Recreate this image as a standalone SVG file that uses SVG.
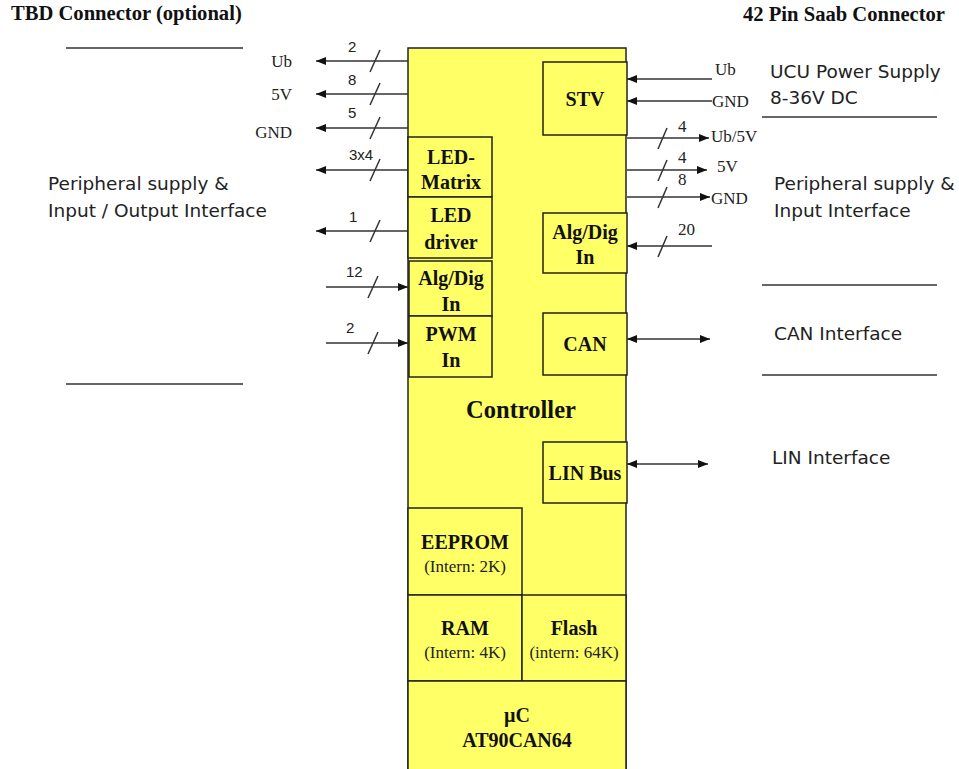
<svg xmlns="http://www.w3.org/2000/svg" width="959" height="769" viewBox="0 0 959 769">
<defs>
<style>
.box{fill:#FFFF66;stroke:#222;stroke-width:1.5}
.bl{font-family:"Liberation Serif",serif;font-weight:bold;font-size:20px;fill:#111;text-anchor:middle}
.big{font-size:24.5px}
.sm{font-family:"Liberation Serif",serif;font-size:17px;fill:#222;text-anchor:middle}
.pin{font-family:"Liberation Serif",serif;font-size:17px;fill:#222}
.num{font-family:"Liberation Sans",sans-serif;font-size:15px;fill:#222}
.desc{font-family:"DejaVu Sans",sans-serif;font-size:18.5px;fill:#222}
.title{font-family:"Liberation Serif",serif;font-weight:bold;font-size:20.6px;fill:#111}
.ln{stroke:#333;stroke-width:1.5;fill:none}
.sep{stroke:#333;stroke-width:1.3}
</style>
<marker id="ah" viewBox="0 0 10 8" refX="10" refY="4" markerWidth="10" markerHeight="8" markerUnits="userSpaceOnUse" orient="auto-start-reverse">
<path d="M0,0 L10,4 L0,8 Z" fill="#111"/>
</marker>
</defs>
<rect width="959" height="769" fill="#fff"/>

<text class="title" x="11" y="20">TBD Connector (optional)</text>
<text class="title" x="945" y="21" text-anchor="end">42 Pin Saab Connector</text>

<g id="separators">
<line class="sep" x1="66" y1="48" x2="243" y2="48"/>
<line class="sep" x1="66" y1="384" x2="243" y2="384"/>
<line class="sep" x1="762" y1="117" x2="937" y2="117"/>
<line class="sep" x1="762" y1="285" x2="937" y2="285"/>
<line class="sep" x1="762" y1="375" x2="937" y2="375"/>
</g>

<g id="descriptions">
<text class="desc" x="48" y="190">Peripheral supply &amp;</text>
<text class="desc" x="48" y="217">Input / Output Interface</text>
<text class="desc" x="770" y="78">UCU Power Supply</text>
<text class="desc" x="770" y="104">8-36V DC</text>
<text class="desc" x="774" y="190">Peripheral supply &amp;</text>
<text class="desc" x="774" y="217">Input Interface</text>
<text class="desc" x="774" y="340">CAN Interface</text>
<text class="desc" x="772" y="464">LIN Interface</text>
</g>

<g id="controller">
<rect class="box" x="408" y="48" width="218" height="730"/>
<text class="bl big" x="521" y="418">Controller</text>
</g>
<g id="led-matrix">
<rect class="box" x="408" y="137" width="84" height="60"/>
<text class="bl" x="451" y="164">LED-</text>
<text class="bl" x="451" y="189">Matrix</text>
</g>
<g id="led-driver">
<rect class="box" x="408" y="197" width="84" height="61"/>
<text class="bl" x="451" y="222">LED</text>
<text class="bl" x="451" y="249">driver</text>
</g>
<g id="algdig-left">
<rect class="box" x="409" y="261" width="83" height="55"/>
<text class="bl" x="451" y="285">Alg/Dig</text>
<text class="bl" x="451" y="311">In</text>
</g>
<g id="pwm-in">
<rect class="box" x="409" y="316" width="83" height="61"/>
<text class="bl" x="451" y="341">PWM</text>
<text class="bl" x="451" y="367">In</text>
</g>
<g id="stv">
<rect class="box" x="543" y="62" width="84" height="73"/>
<text class="bl" x="585" y="106">STV</text>
</g>
<g id="algdig-right">
<rect class="box" x="543" y="213" width="84" height="60"/>
<text class="bl" x="585" y="239">Alg/Dig</text>
<text class="bl" x="585" y="264">In</text>
</g>
<g id="can">
<rect class="box" x="543" y="313" width="84" height="62"/>
<text class="bl" x="585" y="351">CAN</text>
</g>
<g id="lin-bus">
<rect class="box" x="543" y="442" width="84" height="61"/>
<text class="bl" x="585" y="480">LIN Bus</text>
</g>
<g id="eeprom">
<rect class="box" x="408" y="508" width="114" height="87"/>
<text class="bl" x="465" y="549">EEPROM</text>
<text class="sm" x="465" y="572">(Intern: 2K)</text>
</g>
<g id="ram">
<rect class="box" x="408" y="595" width="114" height="86"/>
<text class="bl" x="465" y="635">RAM</text>
<text class="sm" x="465" y="658">(Intern: 4K)</text>
</g>
<g id="flash">
<rect class="box" x="522" y="595" width="104" height="86"/>
<text class="bl" x="574" y="635">Flash</text>
<text class="sm" x="574" y="658">(intern: 64K)</text>
</g>
<g id="uc">
<rect class="box" x="408" y="681" width="218" height="97"/>
<text class="bl" x="517" y="722">µC</text>
<text class="bl" x="517" y="747">AT90CAN64</text>
</g>

<g id="connectors">
<line class="ln" x1="408" y1="61" x2="316" y2="61" marker-end="url(#ah)"/>
<line class="ln" x1="370" y1="72" x2="380" y2="50"/>
<line class="ln" x1="408" y1="94" x2="316" y2="94" marker-end="url(#ah)"/>
<line class="ln" x1="370" y1="105" x2="380" y2="83"/>
<line class="ln" x1="408" y1="128" x2="316" y2="128" marker-end="url(#ah)"/>
<line class="ln" x1="370" y1="139" x2="380" y2="117"/>
<line class="ln" x1="408" y1="170" x2="316" y2="170" marker-end="url(#ah)"/>
<line class="ln" x1="370" y1="181" x2="380" y2="159"/>
<line class="ln" x1="408" y1="231" x2="316" y2="231" marker-end="url(#ah)"/>
<line class="ln" x1="370" y1="242" x2="380" y2="220"/>
<line class="ln" x1="326" y1="287" x2="408" y2="287" marker-end="url(#ah)"/>
<line class="ln" x1="368" y1="298" x2="378" y2="276"/>
<line class="ln" x1="326" y1="343" x2="408" y2="343" marker-end="url(#ah)"/>
<line class="ln" x1="368" y1="354" x2="378" y2="332"/>
<line class="ln" x1="712" y1="79" x2="627" y2="79" marker-end="url(#ah)"/>
<line class="ln" x1="712" y1="101" x2="627" y2="101" marker-end="url(#ah)"/>
<line class="ln" x1="627" y1="138" x2="709" y2="138" marker-end="url(#ah)"/>
<line class="ln" x1="658" y1="149" x2="667" y2="128"/>
<line class="ln" x1="627" y1="170" x2="707" y2="170" marker-end="url(#ah)"/>
<line class="ln" x1="658" y1="181" x2="667" y2="160"/>
<line class="ln" x1="627" y1="197" x2="710" y2="197" marker-end="url(#ah)"/>
<line class="ln" x1="658" y1="208" x2="667" y2="187"/>
<line class="ln" x1="712" y1="246" x2="627" y2="246" marker-end="url(#ah)"/>
<line class="ln" x1="658" y1="257" x2="667" y2="236"/>
<line class="ln" x1="627" y1="339" x2="710" y2="339" marker-start="url(#ah)" marker-end="url(#ah)"/>
<line class="ln" x1="627" y1="464" x2="708" y2="464" marker-start="url(#ah)" marker-end="url(#ah)"/>
</g>

<g id="pin-labels">
<text class="pin" x="292" y="67" text-anchor="end">Ub</text>
<text class="pin" x="292" y="100" text-anchor="end">5V</text>
<text class="pin" x="292" y="138" text-anchor="end">GND</text>
<text class="num" x="348" y="52">2</text>
<text class="num" x="348" y="85">8</text>
<text class="num" x="348" y="118">5</text>
<text class="num" x="349" y="160">3x4</text>
<text class="num" x="349" y="222">1</text>
<text class="num" x="346" y="277">12</text>
<text class="num" x="346" y="333">2</text>
<text class="pin" x="715" y="75">Ub</text>
<text class="pin" x="712" y="107">GND</text>
<text class="pin" x="711" y="142">Ub/5V</text>
<text class="pin" x="717" y="172">5V</text>
<text class="pin" x="711" y="204">GND</text>
<text class="pin" x="678" y="132">4</text>
<text class="pin" x="678" y="163">4</text>
<text class="pin" x="678" y="185">8</text>
<text class="pin" x="678" y="235">20</text>
</g>
</svg>
